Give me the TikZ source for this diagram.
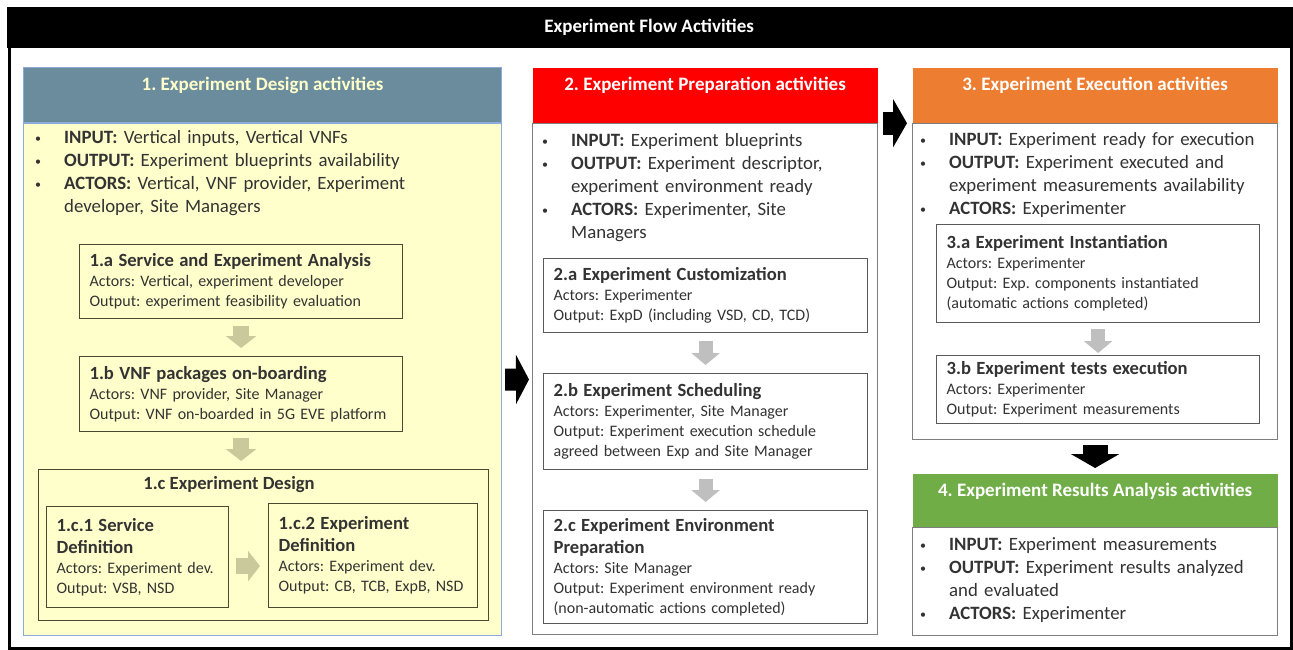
\documentclass[tikz,border=0pt]{standalone}
\usepackage{fontspec}
\setmainfont{Carlito}
\usetikzlibrary{arrows.meta,positioning}
\definecolor{designhead}{HTML}{6A8C9D}
\definecolor{designbody}{HTML}{FFFFCC}
\definecolor{designline}{HTML}{8EAADB}
\definecolor{designbox}{HTML}{4A4A30}
\definecolor{designarrow}{HTML}{C9C99B}
\definecolor{prephead}{HTML}{FF0000}
\definecolor{exechead}{HTML}{ED7D31}
\definecolor{reshead}{HTML}{70AD47}
\definecolor{boxline}{HTML}{595959}
\definecolor{colline}{HTML}{7F7F7F}
\definecolor{stepgray}{HTML}{BFBFBF}
\definecolor{txt}{HTML}{333333}
\frenchspacing
\newcommand{\listfont}{\fontsize{18.8}{23}\selectfont}
\newcommand{\colheadfont}{\fontsize{19}{22}\selectfont\bfseries}
\newcommand{\boxfont}{\fontsize{16}{20}\selectfont}
\newcommand{\boxtitle}{\fontsize{18.6}{20}\selectfont\bfseries}
\newcommand{\bitem}[2]{\hangindent=29pt\hangafter=1\noindent\makebox[29pt][l]{\raisebox{1pt}{\fontsize{12}{12}\selectfont\textbullet}}\strut\textbf{#1} #2\par}
\tikzset{
  colhead/.style={anchor=north west, inner sep=0pt, minimum height=55pt, line width=1.2pt},
  headtext/.style={anchor=base, yshift=-23.5pt, inner sep=0pt, font=\colheadfont, text=white},
  colbody/.style={anchor=north west, inner sep=0pt, line width=1.2pt},
  listbox/.style={anchor=north west, inner sep=0pt, text width=400pt, align=left, font=\listfont},
  subbox/.style={draw=boxline, line width=1.2pt, fill=white, anchor=north west, inner xsep=10pt, inner ysep=0pt, align=left, font=\boxfont},
  designsub/.style={subbox, draw=designbox, fill=none},
  bigarrow/.style={draw=black, line width=23pt, -{Triangle[width=48pt,length=14pt]}},
  steparrow/.style={draw=stepgray, line width=14pt, -{Triangle[width=28pt,length=12pt]}},
  designarrowstyle/.style={draw=designarrow, line width=16pt, -{Triangle[width=30pt,length=12pt]}},
}
\begin{document}
\begin{tikzpicture}[x=1pt, y=-1pt, every node/.style={text=txt}]
  \useasboundingbox (0,0) rectangle (1293,650);
  % frame and title band
  \node[draw=black, line width=3pt, minimum width=1282pt, minimum height=640pt, anchor=north west, inner sep=0pt] (frame) at (8,7) {};
  \node[fill=black, minimum width=1284pt, minimum height=41pt, anchor=north west, inner sep=0pt, text=white, font=\fontsize{19}{22}\selectfont\bfseries] (band) at (7,7) {Experiment Flow Activities};

  % 1. design
  \node[colhead, fill=designhead, draw=designline, minimum width=478pt, label={[headtext, text=designbody]north:1. Experiment Design activities}] (h1) at (23,67) {};
  \node[colbody, fill=designbody, draw=designline, minimum width=478pt, minimum height=512pt, below=0pt of h1] (b1) {};
  \node[listbox] (l1) at (35,127) {%
    \bitem{INPUT:}{Vertical inputs, Vertical VNFs}
    \bitem{OUTPUT:}{Experiment blueprints availability}
    \bitem{ACTORS:}{Vertical, VNF provider, Experiment\newline developer, Site Managers}};
  \node[designsub, text width=303pt, minimum height=74pt] (s1a) at (79,244) {{\boxtitle 1.a Service and Experiment Analysis}\\Actors: Vertical, experiment developer\\Output: experiment feasibility evaluation};
  \node[designsub, text width=303pt, minimum height=75pt] (s1b) at (79,356) {{\boxtitle 1.b VNF packages on-boarding}\\Actors: VNF provider, Site Manager\\Output: VNF on-boarded in 5G EVE platform};
  \node[designsub, text width=430pt, minimum height=151pt] (s1c) at (38,469) {};
  \node[font=\boxtitle, inner sep=0pt] (s1ctitle) at (229,485) {1.c Experiment Design};
  \node[designsub, text width=162pt, minimum height=101pt] (s1c1) at (46,506) {{\boxtitle 1.c.1 Service\\[2pt]Definition}\\Actors: Experiment dev.\\Output: VSB, NSD};
  \node[designsub, text width=189pt, minimum height=104pt] (s1c2) at (268,503) {{\boxtitle 1.c.2 Experiment\\[2pt]Definition}\\Actors: Experiment dev.\\Output: CB, TCB, ExpB, NSD};
  \draw[designarrowstyle, shorten <=7pt, shorten >=8pt] (s1a) -- (s1b);
  \draw[designarrowstyle, shorten <=6pt, shorten >=8pt] (s1b.south) -- (s1b.south |- s1c.north);
  \draw[designarrowstyle, shorten <=7pt, shorten >=8pt] ([yshift=-9pt]s1c1.east) -- ([yshift=-9pt]s1c1.east -| s1c2.west);

  % 2. preparation
  \node[colhead, fill=prephead, minimum width=345pt, label={[headtext]north:2. Experiment Preparation activities}] (h2) at (532,67) {};
  \node[colbody, fill=white, draw=colline, minimum width=345pt, minimum height=511pt, below=0pt of h2] (b2) {};
  \node[listbox] (l2) at (542,130) {%
    \bitem{INPUT:}{Experiment blueprints}
    \bitem{OUTPUT:}{Experiment descriptor,\newline experiment environment ready}
    \bitem{ACTORS:}{Experimenter, Site\newline Managers}};
  \node[subbox, text width=304pt, minimum height=74pt] (s2a) at (543,258) {{\boxtitle 2.a Experiment Customization}\\Actors: Experimenter\\Output: ExpD (including VSD, CD, TCD)};
  \node[subbox, text width=304pt, minimum height=96pt] (s2b) at (543,373) {{\boxtitle 2.b Experiment Scheduling}\\Actors: Experimenter, Site Manager\\Output: Experiment execution schedule\\agreed between Exp and Site Manager};
  \node[subbox, text width=304pt, minimum height=113pt] (s2c) at (543,510) {{\boxtitle 2.c Experiment Environment\\[2pt]Preparation}\\Actors: Site Manager\\Output: Experiment environment ready\\(non-automatic actions completed)};
  \draw[steparrow, shorten <=8pt, shorten >=8pt] (s2a) -- (s2b);
  \draw[steparrow, shorten <=9pt, shorten >=8pt] (s2b) -- (s2c);

  % 3. execution
  \node[colhead, fill=exechead, minimum width=365pt, label={[headtext]north:3. Experiment Execution activities}] (h3) at (912,67) {};
  \node[colbody, fill=white, draw=colline, minimum width=365pt, minimum height=316pt, below=0pt of h3] (b3) {};
  \node[listbox] (l3) at (920,129) {%
    \bitem{INPUT:}{Experiment ready for execution}
    \bitem{OUTPUT:}{Experiment executed and\newline experiment measurements availability}
    \bitem{ACTORS:}{Experimenter}};
  \node[subbox, text width=303pt, minimum height=98pt] (s3a) at (936,224) {{\boxtitle 3.a Experiment Instantiation}\\Actors: Experimenter\\Output: Exp. components instantiated\\(automatic actions completed)};
  \node[subbox, text width=303pt, minimum height=68pt] (s3b) at (936,355) {{\boxtitle 3.b Experiment tests execution}\\Actors: Experimenter\\Output: Experiment measurements};
  \draw[steparrow, shorten <=6pt, shorten >=2pt] (s3a) -- (s3b);

  % 4. results analysis
  \node[colhead, fill=reshead, minimum width=365pt, minimum height=53pt, label={[headtext]north:4. Experiment Results Analysis activities}] (h4) at (912,473) {};
  \node[colbody, fill=white, draw=colline, minimum width=365pt, minimum height=108pt, below=0pt of h4] (b4) {};
  \node[listbox] (l4) at (920,534) {%
    \bitem{INPUT:}{Experiment measurements}
    \bitem{OUTPUT:}{Experiment results analyzed\newline and evaluated}
    \bitem{ACTORS:}{Experimenter}};

  % flow between activities
  \draw[bigarrow, line width=22pt, -{Triangle[width=49pt,length=13pt]}, shorten <=3pt, shorten >=3pt] (b1) -- (b2);
  \draw[bigarrow, shorten <=5pt, shorten >=5pt] (h2.south east) -- (h3.south west);
  \draw[bigarrow, line width=25pt, shorten <=5pt, shorten >=5pt] (b3) -- (h4);
\end{tikzpicture}
\end{document}
